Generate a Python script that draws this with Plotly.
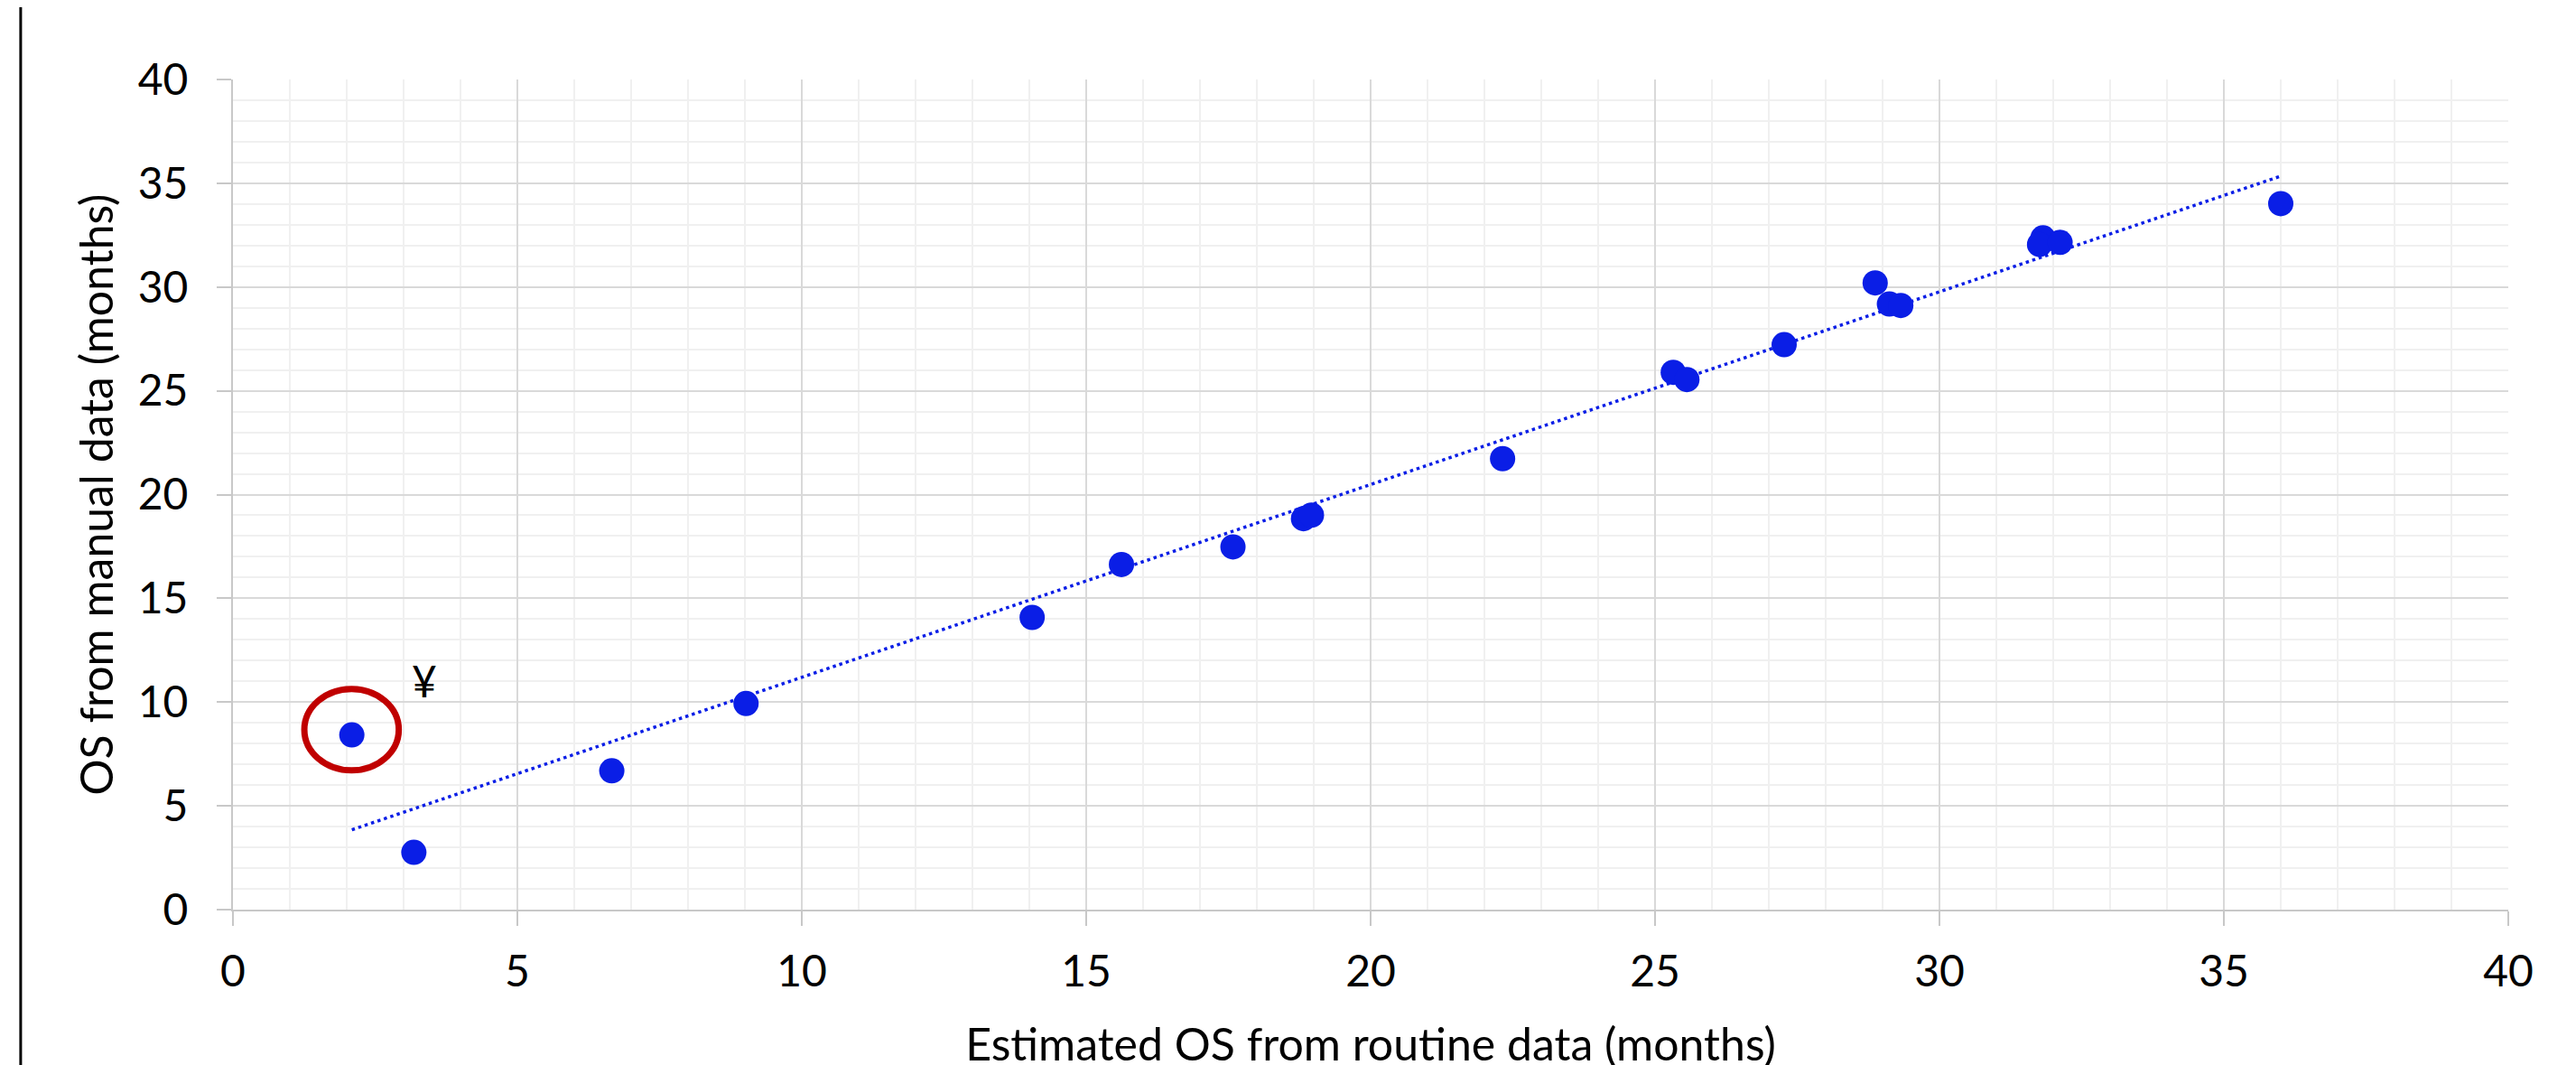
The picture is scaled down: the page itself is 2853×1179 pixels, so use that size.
import numpy as np
import plotly.graph_objects as go

# ---- data ----
routine_os = [2.09, 3.18, 6.66, 9.02, 14.05, 15.62, 17.58, 18.82, 18.96, 22.32,
              25.32, 25.56, 27.27, 28.87, 29.12, 29.32, 31.82, 31.76, 32.12, 36.00]
manual_os = [8.42, 2.76, 6.69, 9.93, 14.08, 16.63, 17.48, 18.84, 19.01, 21.73,
             25.89, 25.54, 27.22, 30.20, 29.18, 29.11, 32.37, 32.05, 32.15, 34.02]

x_ticks = [0, 5, 10, 15, 20, 25, 30, 35, 40]
y_ticks = [0, 5, 10, 15, 20, 25, 30, 35, 40]

x_title = "Estimated OS from routine data (months)"
y_title = "OS from manual data (months)"

# highlighted outlier (red ring) and its footnote mark
highlight_center = (2.085, 8.67)
highlight_half_size = (0.83, 1.96)
note_pos = (3.37, 11.02)
note_text = "¥"

# ---- styles ----
BLUE = "#0a1ee6"
RED = "#c00000"
FONT = "Lato, Carlito, Calibri, sans-serif"
TICK_SIZE = 48
TITLE_SIZE = 50

# linear trendline from the data
xs = np.array(routine_os)
ys = np.array(manual_os)
slope, intercept = np.polyfit(xs, ys, 1)
trend_x = [xs.min(), xs.max()]
trend_y = [slope * v + intercept for v in trend_x]

fig = go.Figure()

fig.add_trace(go.Scatter(
    x=trend_x, y=trend_y, mode="lines",
    line=dict(color=BLUE, width=3.5, dash="3.5px,4px"),
    hoverinfo="skip", showlegend=False,
))

fig.add_trace(go.Scatter(
    x=routine_os, y=manual_os, mode="markers",
    marker=dict(color=BLUE, size=28, line=dict(width=0)),
    showlegend=False,
))

fig.add_shape(
    type="circle", xref="x", yref="y",
    x0=highlight_center[0] - highlight_half_size[0],
    x1=highlight_center[0] + highlight_half_size[0],
    y0=highlight_center[1] - highlight_half_size[1],
    y1=highlight_center[1] + highlight_half_size[1],
    line=dict(color=RED, width=7),
)

fig.add_annotation(
    x=note_pos[0], y=note_pos[1], xref="x", yref="y",
    text=note_text, showarrow=False,
    font=dict(family=FONT, size=TICK_SIZE, color="black"),
)

# left frame line of the original chart box
fig.add_shape(
    type="line", xref="paper", yref="paper",
    x0=-0.0933, x1=-0.0933, y0=-0.2, y1=1.2,
    line=dict(color="black", width=3),
)

axis_common = dict(
    range=[0, 40], dtick=5, tick0=0,
    showgrid=True, gridcolor="#d9d9d9", gridwidth=2,
    minor=dict(dtick=1, showgrid=True, gridcolor="#f0f0f0", gridwidth=2, ticks=""),
    showline=True, linecolor="#c8c8c8", linewidth=2,
    ticks="outside", ticklen=16, tickcolor="#c8c8c8", tickwidth=2,
    zeroline=False,
    tickfont=dict(family=FONT, size=TICK_SIZE, color="black"),
)

fig.update_xaxes(
    **axis_common,
    tickvals=x_ticks, ticktext=[str(v) for v in x_ticks],
    ticklabelstandoff=9,
    title=dict(text=x_title, font=dict(family=FONT, size=TITLE_SIZE, color="black"), standoff=38),
)
fig.update_yaxes(
    **axis_common,
    tickvals=y_ticks, ticktext=[str(v) for v in y_ticks],
    ticklabelstandoff=22,
    title=dict(text=y_title, font=dict(family=FONT, size=TITLE_SIZE, color="black"), standoff=11),
)

fig.update_layout(
    width=2853, height=1179,
    margin=dict(l=250, r=83, t=80, b=158),
    paper_bgcolor="white", plot_bgcolor="white",
    showlegend=False,
    font=dict(family=FONT, color="black"),
)

fig.write_html("out.html")
